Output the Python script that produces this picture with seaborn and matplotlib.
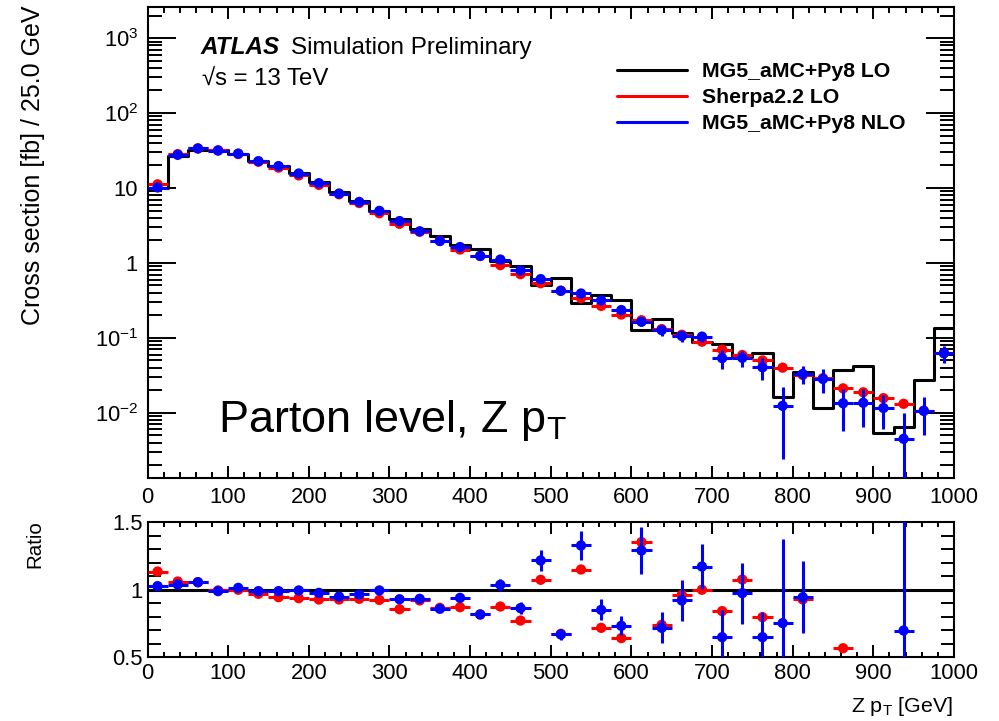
import numpy as np
import pandas as pd
import matplotlib
matplotlib.use("Agg")
import matplotlib.pyplot as plt
import seaborn as sns
from matplotlib.lines import Line2D
from matplotlib.ticker import LogLocator, MultipleLocator, FixedLocator, FuncFormatter, NullFormatter

# ---------------- data ----------------
bin_edges = np.arange(0, 1025, 25)          # Z pT bins [GeV]
bin_centers = 0.5 * (bin_edges[:-1] + bin_edges[1:])
bin_half = 0.5 * np.diff(bin_edges)

mg5_lo = [9.9, 26.7, 32.0, 32.0, 28.5, 23.1, 19.8, 15.7, 11.9, 8.9,
          6.77, 4.98, 3.9, 2.84, 2.29, 1.74, 1.52, 1.07, 0.92, 0.50,
          0.636, 0.295, 0.373, 0.321, 0.127, 0.178, 0.115, 0.089, 0.083, 0.0556,
          0.0626, 0.0165, 0.0346, 0.0116, 0.0375, 0.0426, 0.00546, 0.00644, 0.0270, 0.134]

sherpa_lo = [11.2, 28.3, 33.7, 31.8, 28.4, 22.4, 18.7, 14.7, 11.0, 8.24,
             6.30, 4.60, 3.33, 2.61, 1.98, 1.51, 1.24, 0.935, 0.708, 0.536,
             0.427, 0.339, 0.267, 0.205, 0.172, 0.131, 0.110, 0.089, 0.0697, 0.0591,
             0.050, 0.0401, 0.0320, 0.029, 0.0212, 0.0188, 0.0157, 0.0132, 0.0107, 0.0626]
sherpa_lo_err = [0.05, 0.1, 0.1, 0.1, 0.1, 0.08, 0.07, 0.05, 0.04, 0.03,
                 0.02, 0.02, 0.015, 0.01, 0.01, 0.008, 0.006, 0.005, 0.004, 0.003,
                 0.003, 0.002, 0.002, 0.002, 0.0015, 0.0012, 0.001, 0.001, 0.0008, 0.0007,
                 0.0006, 0.0005, 0.0004, 0.0004, 0.0003, 0.0003, 0.0003, 0.0002, 0.0002, 0.001]

mg5_nlo = [10.15, 27.7, 33.7, 31.6, 28.8, 22.8, 19.6, 15.6, 11.6, 8.44,
           6.52, 4.95, 3.62, 2.64, 1.96, 1.63, 1.24, 1.11, 0.793, 0.608,
           0.424, 0.391, 0.317, 0.235, 0.164, 0.127, 0.106, 0.104, 0.0537, 0.0541,
           0.0405, 0.0124, 0.033, 0.0283, 0.0134, 0.0136, 0.0116, 0.0045, 0.0106, 0.0626]
mg5_nlo_err = [0.1, 0.2, 0.25, 0.25, 0.25, 0.2, 0.2, 0.15, 0.12, 0.09,
               0.07, 0.05, 0.05, 0.04, 0.04, 0.03, 0.03, 0.048, 0.037, 0.038,
               0.025, 0.032, 0.029, 0.022, 0.022, 0.020, 0.018, 0.015, 0.015, 0.0126,
               0.013, 0.010, 0.009, 0.0098, 0.0076, 0.0072, 0.0055, 0.0054, 0.0056, 0.016]

nan = np.nan
ratio_sherpa = [1.133, 1.059, 1.054, 0.993, 0.998, 0.968, 0.943, 0.936, 0.926, 0.926,
                0.931, 0.923, 0.854, 0.919, 0.864, 0.869, 0.815, 0.874, 0.770, 1.072,
                0.672, 1.148, 0.716, 0.640, 1.351, 0.738, 0.960, 0.998, 0.840, 1.074,
                0.795, nan, 0.926, nan, 0.565, nan, nan, nan, nan, nan]
ratio_sherpa_err = [0.008, 0.006, 0.005, 0.005, 0.005, 0.005, 0.005, 0.005, 0.005, 0.006,
                    0.006, 0.007, 0.008, 0.008, 0.009, 0.01, 0.01, 0.012, 0.012, 0.015,
                    0.015, 0.018, 0.018, 0.02, 0.02, 0.02, 0.02, 0.02, 0.02, 0.02,
                    0.02, 0.02, 0.02, 0.02, 0.025, 0.02, 0.02, 0.02, 0.02, 0.02]

ratio_nlo = [1.025, 1.037, 1.054, 0.988, 1.012, 0.988, 0.988, 0.993, 0.975, 0.948,
             0.963, 0.993, 0.928, 0.931, 0.857, 0.938, 0.815, 1.035, 0.862, 1.215,
             0.667, 1.326, 0.849, 0.731, 1.289, 0.716, 0.919, 1.170, 0.647, 0.973,
             0.647, 0.751, 0.943, nan, nan, nan, nan, 0.696, nan, nan]
ratio_nlo_err = [0.01, 0.008, 0.008, 0.008, 0.009, 0.009, 0.01, 0.01, 0.01, 0.01,
                 0.011, 0.012, 0.015, 0.015, 0.018, 0.02, 0.022, 0.045, 0.045, 0.077,
                 0.04, 0.108, 0.077, 0.07, 0.175, 0.115, 0.154, 0.164, 0.2, 0.226,
                 0.19, 0.62, 0.265, 0.5, 0.5, 0.5, 0.5, 1.0, 0.5, 0.3]

legend_labels = ["MG5_aMC+Py8 LO", "Sherpa2.2 LO", "MG5_aMC+Py8 NLO"]
series_colors = ["black", "#ff0000", "#0000ff"]

# step outline: each bin value held from its lower edge to the next edge
step_df = pd.DataFrame({"pt": bin_edges, "xsec": np.append(mg5_lo, mg5_lo[-1])})

# ---------------- style ----------------
sns.set_theme(style="ticks")
plt.rcParams["font.family"] = ["Liberation Sans", "DejaVu Sans"]
plt.rcParams["mathtext.fontset"] = "custom"
plt.rcParams["mathtext.rm"] = "Liberation Sans"
plt.rcParams["mathtext.it"] = "Liberation Sans:italic"
plt.rcParams["mathtext.bf"] = "Liberation Sans:bold"
plt.rcParams["axes.linewidth"] = 1.5
plt.rcParams["axes.edgecolor"] = "black"
plt.rcParams["axes.grid"] = False
plt.rcParams["text.color"] = "black"
plt.rcParams["axes.labelcolor"] = "black"
plt.rcParams["xtick.color"] = "black"
plt.rcParams["ytick.color"] = "black"

W, H = 999, 721
fig = plt.figure(figsize=(W / 100, H / 100), dpi=100)
L, R = 147.5, 954
ax1 = fig.add_axes([L / W, 1 - 478 / H, (R - L) / W, (478 - 7) / H])
ax2 = fig.add_axes([L / W, 1 - 657 / H, (R - L) / W, (657 - 522) / H])

LW = 2.2
# ---------------- upper panel ----------------
ax1.set_yscale("log")
sns.lineplot(data=step_df, x="pt", y="xsec", drawstyle="steps-post", estimator=None,
             color="black", linewidth=LW, ax=ax1, zorder=2)

ax1.errorbar(bin_centers, sherpa_lo, xerr=bin_half, yerr=sherpa_lo_err, fmt="none",
             ecolor=series_colors[1], elinewidth=LW, capsize=0, zorder=3)
sns.scatterplot(x=bin_centers, y=sherpa_lo, color=series_colors[1], s=55,
                edgecolor="none", ax=ax1, zorder=4)
ax1.errorbar(bin_centers, mg5_nlo, xerr=bin_half, yerr=mg5_nlo_err, fmt="none",
             ecolor=series_colors[2], elinewidth=LW, capsize=0, zorder=5)
sns.scatterplot(x=bin_centers, y=mg5_nlo, color=series_colors[2], s=55,
                edgecolor="none", ax=ax1, zorder=6)

ax1.set_xlim(0, 1000)
ax1.set_ylim(1.35e-3, 2.6e3)
ax1.set_xlabel("")
ax1.set_ylabel("")


def logfmt(v, pos):
    e = int(round(np.log10(v)))
    if e == 0:
        return "1"
    if e == 1:
        return "10"
    return "$10^{%d}$" % e


ax1.yaxis.set_major_locator(LogLocator(base=10, numticks=20))
ax1.yaxis.set_minor_locator(LogLocator(base=10, subs=np.arange(2, 10), numticks=20))
ax1.yaxis.set_major_formatter(FuncFormatter(logfmt))
ax1.yaxis.set_minor_formatter(NullFormatter())
ax1.xaxis.set_major_locator(MultipleLocator(100))
ax1.xaxis.set_minor_locator(MultipleLocator(20))
ax1.tick_params(axis="both", which="both", direction="in", top=True, right=True,
                width=1.4, colors="black", labelsize=15.8)
ax1.tick_params(axis="x", which="major", length=8.6, pad=6.5)
ax1.tick_params(axis="x", which="minor", length=4.0)
ax1.tick_params(axis="y", which="major", length=20, pad=6.8)
ax1.tick_params(axis="y", which="minor", length=10)

handles = [Line2D([], [], color=c, lw=LW) for c in series_colors]
ax1.legend(handles, legend_labels, loc="upper left",
           bbox_to_anchor=(617 / W, 1 - 62 / H), bbox_transform=fig.transFigure,
           frameon=False, borderpad=0, borderaxespad=0,
           handlelength=3.29, handletextpad=0.7, labelspacing=0.34,
           prop=dict(weight="bold", size=15.3))

# ---------------- ratio panel ----------------
ax2.axhline(1.0, color="black", lw=LW, zorder=2)
ax2.errorbar(bin_centers, ratio_sherpa, xerr=bin_half, yerr=ratio_sherpa_err, fmt="none",
             ecolor=series_colors[1], elinewidth=LW, capsize=0, zorder=3)
sns.scatterplot(x=bin_centers, y=ratio_sherpa, color=series_colors[1], s=55,
                edgecolor="none", ax=ax2, zorder=4)
ax2.errorbar(bin_centers, ratio_nlo, xerr=bin_half, yerr=ratio_nlo_err, fmt="none",
             ecolor=series_colors[2], elinewidth=LW, capsize=0, zorder=5)
sns.scatterplot(x=bin_centers, y=ratio_nlo, color=series_colors[2], s=55,
                edgecolor="none", ax=ax2, zorder=6)
ax2.set_xlim(0, 1000)
ax2.set_ylim(0.5, 1.5)
ax2.set_xlabel("")
ax2.set_ylabel("")
ax2.xaxis.set_major_locator(MultipleLocator(100))
ax2.xaxis.set_minor_locator(MultipleLocator(20))
ax2.yaxis.set_major_locator(FixedLocator([0.5, 1.0, 1.5]))
ax2.yaxis.set_minor_locator(MultipleLocator(0.1))
ax2.yaxis.set_major_formatter(FuncFormatter(lambda v, p: ("%g" % v)))
ax2.tick_params(axis="both", which="both", direction="in", top=True, right=True,
                width=1.4, colors="black", labelsize=15.8)
ax2.tick_params(axis="x", which="major", length=8.6, pad=4.3)
ax2.tick_params(axis="x", which="minor", length=3.6)
ax2.tick_params(axis="y", which="major", length=10.8, pad=3.2)
ax2.tick_params(axis="y", which="minor", length=9.4)

# ---------------- texts ----------------
fig.text(200 / W, 1 - 54 / H, "ATLAS", weight="bold", style="italic", size=17.5, va="baseline")
fig.text(290.7 / W, 1 - 54 / H, "Simulation Preliminary", size=17.5, va="baseline")
fig.text(202 / W, 1 - 86 / H, "\u221As = 13 TeV", size=17.3, va="baseline")
fig.text(218 / W, 1 - 432 / H, r"Parton level, Z p$_\mathrm{T}$", size=32.4, va="baseline")
fig.text(953 / W, 1 - 712 / H, r"Z p$_\mathrm{T}$ [GeV]", size=15.4, ha="right", va="baseline")
fig.text(33.5 / W, 1 - 165 / H, "Cross section [fb] / 25.0 GeV", rotation=90,
         size=18, ha="center", va="center")
fig.text(35 / W, 1 - 544 / H, "Ratio", rotation=90, size=14.8, ha="center", va="center")

fig.savefig("out.png", dpi=100)
